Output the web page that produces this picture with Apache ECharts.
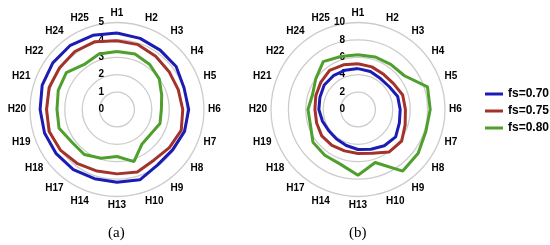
<!DOCTYPE html>
<html><head><meta charset="utf-8">
<script src="https://cdn.jsdelivr.net/npm/echarts@6/dist/echarts.min.js"></script>
<style>html,body{margin:0;padding:0;background:#fff}#c{width:550px;height:245px}</style>
</head><body><div id="c"></div>
<script>
const categories = ['H1','H2','H3','H4','H5','H6','H7','H8','H9','H10','H13','H14','H17','H18','H19','H20','H21','H22','H24','H25'];
const seriesNames = ['fs=0.70','fs=0.75','fs=0.80'];
const seriesColors = ['#1c1cb4','#a3322a','#4f9f2c'];
// panel (a)
const a_fs070 = [4.40,4.30,4.22,4.20,4.05,4.12,4.08,3.95,3.95,4.25,4.18,4.18,4.27,4.32,4.38,4.42,4.52,4.56,4.56,4.48];
const a_fs075 = [3.95,3.92,3.78,3.70,3.70,3.78,3.88,3.72,3.60,3.78,3.70,3.72,3.85,4.00,4.10,4.05,4.10,4.08,4.12,4.10];
const a_fs080 = [3.33,3.35,3.20,3.00,2.70,2.55,2.60,2.40,2.45,3.15,2.70,2.95,3.20,3.20,3.50,3.45,3.55,3.60,3.20,3.35];
// panel (b)
const b_fs070 = [4.70,4.60,4.40,4.45,4.80,4.85,5.00,5.35,5.15,4.80,4.60,4.35,4.20,4.15,4.30,4.50,4.60,4.80,4.80,4.75];
const b_fs075 = [5.25,5.15,5.00,5.05,5.40,5.45,5.70,6.20,6.05,5.30,5.05,5.00,5.10,5.15,5.00,4.95,5.10,5.30,5.55,5.40];
const b_fs080 = [6.30,6.35,6.40,6.60,8.40,8.30,8.20,8.55,8.75,6.40,7.55,6.60,6.50,6.40,5.75,5.75,5.50,6.00,6.80,6.40];
const radiusMaxA = 5, radiusStepA = 1;
const radiusMaxB = 10, radiusStepB = 2;
const captions = ['(a)','(b)'];

const FONT = 'Liberation Sans, Arial, sans-serif';
const n = categories.length;
function closed(vals){ return vals.map((v,i)=>[v,i]).concat([[vals[0], n]]); }

function makePolar(center){ return {center: center, radius: 87}; }
function makeAngle(idx){
  return {polarIndex: idx, type:'value', min:0, max:n, interval:1, startAngle:90, clockwise:true,
    axisLine:{show:false}, axisTick:{show:false}, splitLine:{show:false},
    axisLabel:{show:true, margin:4, color:'#000', fontSize:10, fontWeight:'bold', fontFamily:FONT,
      formatter:(v)=> (categories[v] !== undefined && v < n) ? categories[v] : ''}};
}
function makeRadius(idx, max, step){
  return {polarIndex: idx, type:'value', min:0, max:max, interval:step,
    axisLine:{show:false}, axisTick:{show:false},
    axisLabel:{show:true, margin:13, color:'#000', fontSize:10, fontWeight:'bold', fontFamily:FONT},
    splitLine:{show:true, lineStyle:{color:'#cccccc', width:1.3}}};
}
const panels = [[a_fs070,a_fs075,a_fs080],[b_fs070,b_fs075,b_fs080]];
const series = [];
panels.forEach((p,pi)=>{
  p.forEach((vals,si)=>{
    series.push({name: seriesNames[si], type:'line', coordinateSystem:'polar', polarIndex:pi,
      data: closed(vals), symbol:'none', smooth:false, z: 3 - si,
      lineStyle:{width:3, color: seriesColors[si]}, itemStyle:{color: seriesColors[si]}});
  });
});
const chart = echarts.init(document.getElementById('c'), null, {renderer:'canvas'});
chart.setOption({
  animation:false,
  backgroundColor:'#fff',
  polar:[makePolar([117,109.5]), makePolar([358,109.5])],
  angleAxis:[makeAngle(0), makeAngle(1)],
  radiusAxis:[makeRadius(0, radiusMaxA, radiusStepA), makeRadius(1, radiusMaxB, radiusStepB)],
  legend:{data: seriesNames, orient:'vertical', left:480, top:83, icon:'rect', itemWidth:18, itemHeight:3, itemGap:5,
    textStyle:{fontSize:12, fontWeight:'bold', color:'#000', fontFamily:FONT}},
  graphic:[
    {type:'text', left:108, top:226, style:{text:captions[0], font:'15px "Liberation Serif", serif', fill:'#000'}},
    {type:'text', left:349, top:226, style:{text:captions[1], font:'15px "Liberation Serif", serif', fill:'#000'}}
  ],
  series: series
});
</script></body></html>
